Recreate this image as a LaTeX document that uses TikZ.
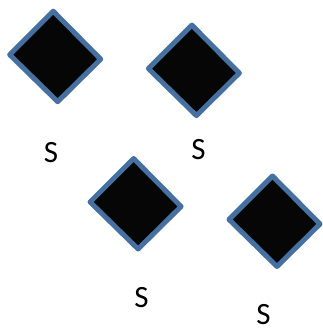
\documentclass[tikz,border=0pt]{standalone}
\usepackage{fontspec}
\setmainfont{Carlito}
\definecolor{dblue}{HTML}{4670A0}
\definecolor{dfill}{HTML}{060606}
\begin{document}
\begin{tikzpicture}[x=1pt,y=1pt,
  dia/.style={draw=dblue,fill=dfill,line width=5pt,line join=round},
  lbl/.style={inner sep=0pt,font=\fontsize{31}{33}\selectfont}]
\useasboundingbox (0,0) rectangle (322,-329);
\coordinate (d1) at (55.2,-56.7);
\coordinate (d2) at (193.9,-70.6);
\coordinate (d3) at (135.6,-204);
\coordinate (d4) at (274.5,-221.5);
\foreach \c in {d1,d2,d3,d4}{
  \draw[dia,shift={(\c)}] (-2,45.5) -- (45.5,-2.5) -- (2.5,-45) -- (-45.5,2) -- cycle;
}
\node[lbl] (s1) at (51,-153) {S};
\node[lbl] (s2) at (198.5,-150) {S};
\node[lbl] (s3) at (141.5,-297.5) {S};
\node[lbl] (s4) at (263.5,-314.5) {S};
\end{tikzpicture}
\end{document}
